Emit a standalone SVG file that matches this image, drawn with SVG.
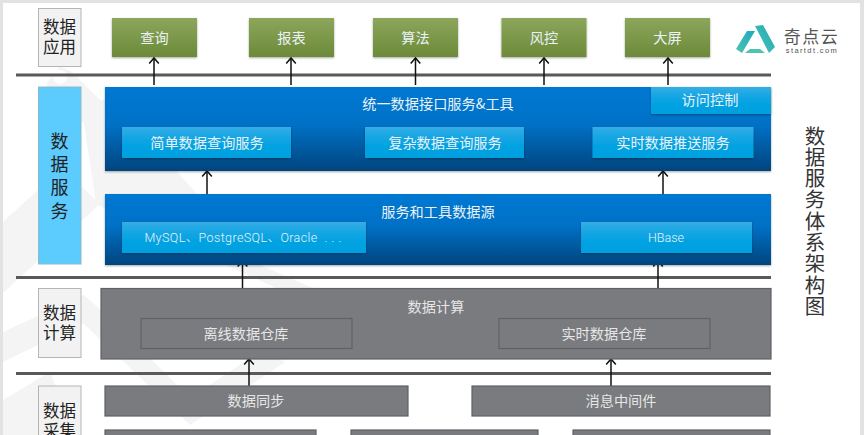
<svg xmlns="http://www.w3.org/2000/svg" width="864" height="435" viewBox="0 0 864 435">
<defs>
<linearGradient id="gGreen" x1="0" y1="0" x2="0" y2="1"><stop offset="0" stop-color="#8ca65c"/><stop offset="1" stop-color="#6c8a38"/></linearGradient>
<linearGradient id="gBlue" x1="0" y1="0" x2="0" y2="1"><stop offset="0" stop-color="#0078d2"/><stop offset="0.45" stop-color="#0071c6"/><stop offset="1" stop-color="#00457e"/></linearGradient>
<linearGradient id="gCyan" x1="0" y1="0" x2="0" y2="1"><stop offset="0" stop-color="#35ade6"/><stop offset="0.5" stop-color="#07a3e2"/><stop offset="1" stop-color="#03a0df"/></linearGradient>
<linearGradient id="gLogo" x1="0" y1="1" x2="1" y2="0"><stop offset="0" stop-color="#4cc4b0"/><stop offset="1" stop-color="#1fa9bd"/></linearGradient>
<filter id="sh" x="-5%" y="-10%" width="110%" height="125%"><feDropShadow dx="0" dy="1" stdDeviation="1" flood-color="#000" flood-opacity="0.35"/></filter>
<marker id="arr" markerUnits="userSpaceOnUse" markerWidth="10" markerHeight="12" refX="8" refY="6" orient="auto" viewBox="0 0 10 12"><path d="M2.500 1.200 L8 6 L2.500 10.800" fill="none" stroke="#111" stroke-width="1.500"/></marker>
</defs>
<style>
text{font-family:"Noto Sans CJK SC","Noto Sans",sans-serif;text-anchor:middle}
.lab{fill:#f2f2f2;stroke:#b5b5b5;stroke-width:1}
.labt{fill:#222;font-size:16.500px}
.vert{writing-mode:vertical-rl;text-anchor:start}
.green{fill:url(#gGreen);filter:url(#sh)}
.blue{fill:url(#gBlue);filter:url(#sh)}
.cyan{fill:url(#gCyan);filter:url(#sh)}
.gray{fill:#7a7b7f;stroke:#606166;stroke-width:1.200}
.w{fill:#eaf2f8;font-size:14.200px}
.g{fill:#e6e6e6;font-size:14.200px}
.sep{stroke:#58595b;stroke-width:3}
.con{stroke:#111;stroke-width:1.500;fill:none;marker-end:url(#arr)}
.t{fill:#333;font-size:20.500px;letter-spacing:.8px}
</style>
<rect width="864" height="435" fill="#e2e2e2"/>
<rect x="3" y="3" width="857" height="432" fill="#fff"/>
<g id="watermark" fill="#f4f4f4">
<path d="M60 66 L72 72 L140 140 L120 160 L46 84Z"/>
<path d="M3 222 L62 168 L100 204 L3 293Z"/>
<path d="M82 110 L110 96 L260 265 L313 288 L280 290 L96 204Z"/>
<path d="M3 362 L83 323 L190 425 L285 362 L262 350 L190 398 L110 318 L84 295 L3 332Z"/>
<path d="M3 400 L50 372 L75 435 L3 435Z"/>
</g>
<circle cx="60" cy="77" r="7" fill="#fff"/>
<g id="connectors">
<path class="sep" d="M16 75H771M16 277.500H771M16 373.500H771"/>
<path class="con" d="M154 85V58"/>
<path class="con" d="M291 85V58"/>
<path class="con" d="M415.500 85V58"/>
<path class="con" d="M544 85V58"/>
<path class="con" d="M668 85V58"/>
<path class="con" d="M207 194V171"/>
<path class="con" d="M663 194V171"/>
<path class="con" d="M242.500 288V261"/>
<path class="con" d="M658 288V261"/>
<path class="con" d="M249 386V359"/>
<path class="con" d="M611 386V359"/>
</g>
<g id="label-app"><rect class="lab" x="38.500" y="8.500" width="42.500" height="58"/><text class="labt" x="59.500" y="33">数据<tspan x="59.500" dy="20">应用</tspan></text></g>
<g id="label-service"><rect x="38.500" y="87" width="42.500" height="177" fill="#5ccbfe" stroke="#8fb8c8"/><text class="labt vert" style="font-size:18px;letter-spacing:5.300px" x="59.500" y="132">数据服务</text></g>
<g id="label-compute"><rect class="lab" x="38.500" y="288.500" width="42.500" height="69"/><text class="labt" x="59.500" y="319">数据<tspan x="59.500" dy="19.500">计算</tspan></text></g>
<g id="label-collect"><rect class="lab" x="38.500" y="386" width="42.500" height="60"/><text class="labt" x="59.500" y="417">数据<tspan x="59.500" dy="19.500">采集</tspan></text></g>
<g id="app-query"><rect class="green" x="112" y="18" width="85" height="39"/><text class="w" x="154.500" y="43">查询</text></g>
<g id="app-report"><rect class="green" x="249" y="18" width="85" height="39"/><text class="w" x="291.500" y="43">报表</text></g>
<g id="app-algo"><rect class="green" x="373" y="18" width="85" height="39"/><text class="w" x="415.500" y="43">算法</text></g>
<g id="app-risk"><rect class="green" x="501.500" y="18" width="85" height="39"/><text class="w" x="544" y="43">风控</text></g>
<g id="app-screen"><rect class="green" x="625" y="18" width="85" height="39"/><text class="w" x="667.500" y="43">大屏</text></g>
<g id="logo">
<path fill="url(#gLogo)" d="M736 49 L747 31 L755 31 L742 53Z"/>
<path fill="url(#gLogo)" d="M755 26 L763 25 L775 47 L769 53Z"/>
<path fill="#4cc4b0" d="M745 53 L750 49 L760 49 L765 53Z"/>
<text x="811.500" y="43" style="font-size:17px;letter-spacing:1.500px" fill="#555">奇点云</text>
<text x="812" y="53" style="font-size:7.500px;letter-spacing:1.400px;font-family:'Liberation Sans',sans-serif" fill="#555">startdt.com</text>
</g>
<g id="api"><rect class="blue" x="105" y="87" width="666" height="84"/><text class="w" x="438" y="109">统一数据接口服务&amp;工具</text></g>
<g id="access"><rect class="cyan" x="651" y="87" width="120" height="27"/><text class="w" x="710" y="105">访问控制</text></g>
<g id="svc-simple"><rect class="cyan" x="122" y="127" width="169" height="31"/><text class="w" x="207" y="148">简单数据查询服务</text></g>
<g id="svc-complex"><rect class="cyan" x="365" y="127" width="159" height="31"/><text class="w" x="445" y="148">复杂数据查询服务</text></g>
<g id="svc-push"><rect class="cyan" x="592.500" y="127" width="161" height="31"/><text class="w" x="673" y="148">实时数据推送服务</text></g>
<g id="source"><rect class="blue" x="105" y="194" width="666" height="71"/><text class="w" x="438" y="217">服务和工具数据源</text></g>
<g id="src-mysql"><rect class="cyan" x="122" y="222" width="244" height="31"/><text class="w" x="243" y="242" style="font-size:12.500px;font-weight:300;letter-spacing:.4px;white-space:pre;font-family:Roboto,'Noto Sans CJK SC',sans-serif">MySQL、PostgreSQL、Oracle  . . .</text></g>
<g id="src-hbase"><rect class="cyan" x="581" y="222" width="171" height="31"/><text class="w" x="666" y="242" style="font-size:12.500px;font-weight:300;font-family:Roboto,sans-serif">HBase</text></g>
<g id="compute"><rect class="gray" x="101" y="288.500" width="670" height="70.500"/><text class="g" x="436" y="312">数据计算</text></g>
<g id="dw-offline"><rect class="gray" x="141" y="318.500" width="211" height="30"/><text class="g" x="246" y="339">离线数据仓库</text></g>
<g id="dw-realtime"><rect class="gray" x="499" y="318.500" width="211" height="30"/><text class="g" x="604" y="339">实时数据仓库</text></g>
<g id="sync"><rect class="gray" x="105" y="386" width="303" height="30"/><text class="g" x="256" y="406">数据同步</text></g>
<g id="mq"><rect class="gray" x="472" y="386" width="298" height="30"/><text class="g" x="621" y="406">消息中间件</text></g>
<g id="src-a"><rect class="gray" x="105" y="430" width="211" height="10"/></g>
<g id="src-b"><rect class="gray" x="351" y="430" width="187" height="10"/></g>
<g id="src-c"><rect class="gray" x="573" y="430" width="197" height="10"/></g>
<g id="title"><text class="t vert" x="815" y="125.500">数据服务体系架构图</text></g>
</svg>
